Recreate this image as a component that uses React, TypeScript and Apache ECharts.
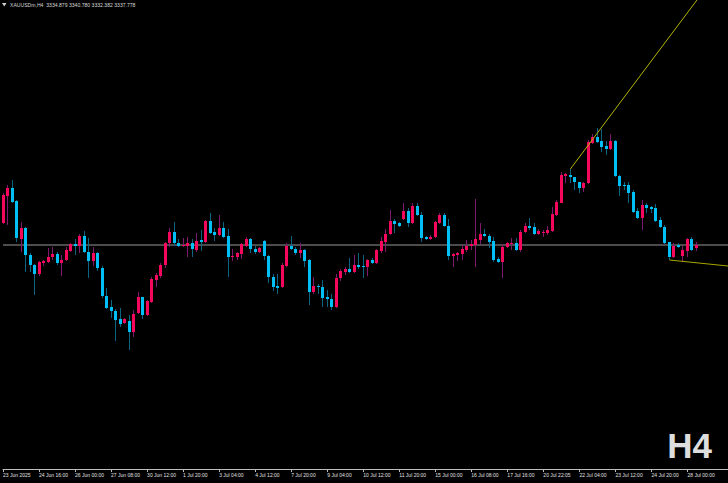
import React, { useEffect, useRef } from 'react';
import * as echarts from 'echarts';

const symbolName = 'XAUUSDm,H4';
const headerValues = ['3334.879', '3340.780', '3332.382', '3337.778'];
const timeframeLabel = 'H4';
const tickLabels = [
  '23 Jun 2025', '24 Jun 16:00', '26 Jun 00:00', '27 Jun 08:00', '30 Jun 12:00',
  '1 Jul 20:00', '3 Jul 04:00', '4 Jul 12:00', '7 Jul 20:00', '9 Jul 04:00',
  '10 Jul 12:00', '11 Jul 20:00', '15 Jul 00:00', '16 Jul 08:00', '17 Jul 16:00',
  '20 Jul 22:05', '22 Jul 04:00', '23 Jul 12:00', '24 Jul 20:00', '28 Jul 00:00',
];
const labelStep = 8;
const totalSlots = 162;

const openP = [
  3357.8, 3382.1, 3389.3, 3377.6, 3343.4, 3353.3, 3329.0, 3320.0, 3311.9, 3321.8,
  3322.7, 3327.2, 3329.9, 3321.8, 3324.5, 3332.6, 3338.9, 3337.1, 3346.1, 3331.7,
  3323.6, 3330.8, 3317.3, 3292.1, 3282.2, 3278.6, 3271.4, 3267.8, 3269.6, 3259.7,
  3276.8, 3291.2, 3275.0, 3286.7, 3306.5, 3310.1, 3320.0, 3339.8, 3349.7, 3339.8,
  3337.1, 3337.1, 3339.8, 3333.5, 3342.5, 3340.7, 3359.6, 3349.7, 3347.0, 3353.3,
  3346.1, 3327.2, 3327.2, 3329.9, 3337.1, 3343.4, 3334.4, 3331.7, 3341.6, 3328.1,
  3309.2, 3301.1, 3300.2, 3319.1, 3337.1, 3334.4, 3330.8, 3333.5, 3324.5, 3295.7,
  3301.1, 3300.2, 3291.2, 3289.4, 3282.2, 3308.3, 3313.7, 3316.4, 3313.7, 3320.0,
  3319.1, 3318.2, 3324.5, 3321.8, 3332.6, 3340.7, 3347.9, 3359.6, 3357.8, 3361.4,
  3368.6, 3357.8, 3373.1, 3365.0, 3345.2, 3343.4, 3345.2, 3357.8, 3365.0, 3355.1,
  3328.1, 3329.0, 3329.9, 3333.5, 3337.1, 3338.0, 3342.5, 3347.9, 3346.1, 3341.6,
  3325.4, 3322.7, 3336.2, 3338.9, 3339.8, 3333.5, 3349.7, 3355.1, 3354.2, 3347.9,
  3348.8, 3348.8, 3350.6, 3365.0, 3375.8, 3400.1, 3401.0, 3399.2, 3394.7, 3389.3,
  3393.8, 3429.8, 3435.2, 3431.6, 3427.1, 3424.4, 3431.6, 3400.1, 3392.0, 3392.0,
  3385.7, 3368.6, 3362.3, 3374.0, 3372.2, 3371.3, 3360.5, 3354.2, 3340.7, 3327.2,
  3338.0, 3328.1, 3332.6, 3343.4, 3334.879,
];
const highP = [
  3384.8, 3392.0, 3396.5, 3378.5, 3358.7, 3354.2, 3330.8, 3320.9, 3323.6, 3324.5,
  3335.3, 3336.2, 3331.7, 3329.0, 3336.2, 3339.8, 3343.4, 3347.9, 3350.6, 3344.3,
  3336.2, 3331.7, 3319.1, 3299.3, 3288.5, 3280.4, 3281.3, 3272.3, 3275.0, 3279.5,
  3295.7, 3291.2, 3288.5, 3309.2, 3312.8, 3321.8, 3340.7, 3353.3, 3358.7, 3343.4,
  3344.3, 3345.2, 3343.4, 3348.8, 3351.5, 3360.5, 3366.8, 3353.3, 3365.0, 3358.7,
  3352.4, 3334.4, 3331.7, 3339.8, 3345.2, 3344.3, 3337.1, 3336.2, 3342.5, 3329.0,
  3311.9, 3311.9, 3321.8, 3339.8, 3346.1, 3336.2, 3339.8, 3334.4, 3325.4, 3309.2,
  3302.9, 3306.5, 3297.5, 3293.9, 3311.9, 3316.4, 3318.2, 3326.3, 3329.0, 3330.8,
  3329.0, 3325.4, 3326.3, 3334.4, 3345.2, 3352.4, 3369.5, 3361.4, 3358.7, 3375.8,
  3371.3, 3375.8, 3375.8, 3367.7, 3346.1, 3347.0, 3359.6, 3366.8, 3366.8, 3361.4,
  3330.8, 3331.7, 3338.0, 3342.5, 3342.5, 3379.4, 3357.8, 3352.4, 3347.9, 3345.2,
  3327.2, 3338.9, 3340.7, 3344.3, 3344.3, 3351.5, 3357.8, 3362.3, 3357.8, 3352.4,
  3351.5, 3355.1, 3372.2, 3378.5, 3403.7, 3402.8, 3406.4, 3399.2, 3394.7, 3394.7,
  3432.5, 3437.9, 3443.3, 3442.4, 3431.6, 3437.9, 3432.5, 3401.0, 3394.7, 3394.7,
  3387.5, 3371.3, 3378.5, 3375.8, 3373.1, 3374.9, 3363.2, 3356.0, 3340.7, 3339.8,
  3339.8, 3337.1, 3344.3, 3345.2, 3340.78,
];
const lowP = [
  3356.9, 3356.0, 3375.8, 3340.7, 3331.7, 3313.7, 3313.7, 3293.0, 3310.1, 3319.1,
  3321.8, 3324.5, 3320.0, 3310.1, 3323.6, 3331.7, 3329.0, 3330.8, 3330.8, 3308.3,
  3319.1, 3314.6, 3290.3, 3280.4, 3272.3, 3251.6, 3264.2, 3266.9, 3243.5, 3255.2,
  3275.9, 3271.4, 3274.1, 3285.8, 3300.2, 3308.3, 3317.3, 3336.2, 3337.1, 3336.2,
  3336.2, 3327.2, 3327.2, 3331.7, 3332.6, 3339.8, 3347.9, 3341.6, 3346.1, 3344.3,
  3309.2, 3323.6, 3324.5, 3325.4, 3336.2, 3330.8, 3329.9, 3330.8, 3324.5, 3303.8,
  3296.6, 3293.9, 3299.3, 3318.2, 3333.5, 3329.0, 3326.3, 3318.2, 3284.0, 3293.9,
  3293.9, 3282.2, 3282.2, 3279.5, 3281.3, 3305.6, 3311.0, 3312.8, 3312.8, 3316.4,
  3308.3, 3310.1, 3320.9, 3320.9, 3330.8, 3331.7, 3347.0, 3348.8, 3354.2, 3360.5,
  3354.2, 3356.9, 3364.1, 3340.7, 3342.5, 3342.5, 3344.3, 3356.9, 3354.2, 3324.5,
  3318.2, 3323.6, 3324.5, 3331.7, 3333.5, 3318.2, 3338.9, 3345.2, 3335.3, 3322.7,
  3321.8, 3308.3, 3335.3, 3333.5, 3332.6, 3331.7, 3348.8, 3351.5, 3347.0, 3347.0,
  3345.2, 3347.0, 3349.7, 3364.1, 3375.8, 3393.8, 3393.8, 3387.5, 3384.8, 3385.7,
  3392.9, 3428.9, 3429.8, 3421.7, 3419.0, 3423.5, 3399.2, 3382.1, 3387.5, 3375.8,
  3366.8, 3361.4, 3351.5, 3366.8, 3366.8, 3358.7, 3353.3, 3338.9, 3324.5, 3326.3,
  3335.3, 3322.7, 3327.2, 3332.6, 3332.382,
];
const closeP = [
  3383.0, 3389.3, 3376.7, 3344.3, 3353.3, 3329.0, 3320.0, 3311.9, 3322.7, 3323.6,
  3327.2, 3329.9, 3321.8, 3324.5, 3333.5, 3338.9, 3337.1, 3346.1, 3331.7, 3323.6,
  3330.8, 3317.3, 3292.1, 3281.3, 3278.6, 3270.5, 3266.9, 3271.4, 3259.7, 3275.9,
  3291.2, 3275.0, 3287.6, 3307.4, 3311.0, 3320.0, 3339.8, 3349.7, 3339.8, 3337.1,
  3338.0, 3339.8, 3334.4, 3341.6, 3340.7, 3359.6, 3348.8, 3347.0, 3353.3, 3345.2,
  3327.2, 3328.1, 3330.8, 3338.9, 3343.4, 3334.4, 3331.7, 3335.3, 3328.1, 3309.2,
  3300.2, 3299.3, 3320.0, 3337.1, 3334.4, 3330.8, 3333.5, 3323.6, 3295.7, 3301.1,
  3300.2, 3290.3, 3289.4, 3282.2, 3308.3, 3314.6, 3316.4, 3313.7, 3320.0, 3318.2,
  3318.2, 3324.5, 3321.8, 3333.5, 3341.6, 3347.9, 3359.6, 3356.9, 3355.1, 3368.6,
  3357.8, 3373.1, 3365.0, 3344.3, 3343.4, 3345.2, 3358.7, 3365.0, 3355.1, 3328.1,
  3329.9, 3330.8, 3334.4, 3337.1, 3338.9, 3343.4, 3347.9, 3346.1, 3340.7, 3324.5,
  3322.7, 3336.2, 3339.8, 3339.8, 3333.5, 3349.7, 3355.1, 3353.3, 3347.9, 3350.6,
  3349.7, 3351.5, 3365.9, 3376.7, 3401.0, 3401.9, 3399.2, 3394.7, 3389.3, 3393.8,
  3430.7, 3435.2, 3430.7, 3426.2, 3424.4, 3431.6, 3400.1, 3391.1, 3391.1, 3384.8,
  3367.7, 3362.3, 3374.0, 3371.3, 3370.4, 3359.6, 3354.2, 3339.8, 3327.2, 3337.1,
  3336.2, 3333.5, 3343.4, 3333.5, 3337.778,
];

const bidPrice = 3337.778;
const trendUp = [[126, 3406.4], [161, 3595.8]];
const trendDown = [[148, 3324.5], [161, 3319.1]];

const priceMin = 3136.4;
const priceMax = 3558.5;

const bodyUp = '#f5075c';
const bodyDown = '#00bff5';
const wickUp = '#7e1a6e';
const wickDown = '#0c6480';

export default function App() {
  const ref = useRef<HTMLDivElement>(null);

  useEffect(() => {
    document.body.style.margin = '0';
    document.body.style.background = '#000';
    const chart = echarts.init(ref.current as HTMLDivElement, null, { renderer: 'svg' });
    const categories = Array.from({ length: totalSlots }, (_, i) => String(i));
    const candles = openP.map((o, i) => [i, o, closeP[i], lowP[i], highP[i]]);
    const isTick = (idx: number) => idx % labelStep === 0 && idx / labelStep < tickLabels.length;

    const option: any = {
      animation: false,
      backgroundColor: '#000000',
      grid: { left: 0, right: 0, top: 0, bottom: 14, containLabel: false },
      xAxis: {
        type: 'category',
        data: categories,
        boundaryGap: false,
        axisLine: { show: true, lineStyle: { color: '#bdbdbd', width: 1 } },
        axisTick: {
          show: true,
          length: 3,
          interval: (idx: number) => isTick(idx),
          lineStyle: { color: '#bdbdbd', width: 1 },
        },
        axisLabel: {
          interval: (idx: number) => isTick(idx),
          formatter: (_v: string, idx: number) => (isTick(idx) ? tickLabels[idx / labelStep] : ''),
          align: 'left',
          color: '#e0e0e0',
          fontSize: 5,
          fontFamily: 'Liberation Sans',
          margin: 3,
        },
        splitLine: { show: false },
      },
      yAxis: {
        type: 'value',
        min: priceMin,
        max: priceMax,
        show: false,
        splitLine: { show: false },
      },
      series: [
        {
          type: 'line',
          data: [],
          z: 1,
          silent: true,
          markLine: {
            silent: true,
            symbol: ['none', 'none'],
            label: { show: false },
            z: 1,
            lineStyle: { color: '#4c4c4c', width: 2, type: 'solid' },
            data: [{ yAxis: bidPrice }],
          },
        },
        {
          type: 'custom',
          z: 3,
          data: candles,
          encode: { x: 0, y: [1, 2, 3, 4] },
          renderItem: (_params: any, api: any) => {
            const i = api.value(0);
            const o = api.value(1);
            const c = api.value(2);
            const l = api.value(3);
            const h = api.value(4);
            const pO = api.coord([i, o]);
            const pC = api.coord([i, c]);
            const pL = api.coord([i, l]);
            const pH = api.coord([i, h]);
            const up = c >= o;
            const x = Math.round(pO[0] - 1.5);
            const yTop = Math.round(Math.min(pO[1], pC[1]));
            const yBot = Math.round(Math.max(pO[1], pC[1]));
            const height = Math.max(1, yBot - yTop);
            return {
              type: 'group',
              children: [
                {
                  type: 'line',
                  shape: { x1: x + 1.5, y1: Math.round(pH[1]), x2: x + 1.5, y2: Math.round(pL[1]) },
                  style: { stroke: up ? wickUp : wickDown, lineWidth: 1 },
                },
                {
                  type: 'rect',
                  shape: { x, y: yTop, width: 3, height },
                  style: { fill: up ? bodyUp : bodyDown },
                },
              ],
            };
          },
        },
        {
          type: 'line',
          z: 4,
          data: trendUp,
          symbol: 'none',
          clip: true,
          lineStyle: { color: '#b3b300', width: 1 },
        },
        {
          type: 'line',
          z: 4,
          data: trendDown,
          symbol: 'none',
          clip: true,
          lineStyle: { color: '#a6a600', width: 1 },
        },
      ],
      graphic: [
        {
          type: 'polygon',
          shape: { points: [[2, 3], [6.5, 3], [4.25, 6.5]] },
          style: { fill: '#d0d0d0' },
        },
        {
          type: 'text',
          x: 10,
          y: 5,
          style: {
            text: `${symbolName}  ${headerValues.join(' ')}`,
            fill: '#d6d6d6',
            fontSize: 5.1,
            fontFamily: 'Liberation Sans',
            textVerticalAlign: 'middle',
          },
        },
        {
          type: 'text',
          x: 712,
          y: 445,
          style: {
            text: timeframeLabel,
            fill: '#dedede',
            fontSize: 35,
            fontWeight: 'bold',
            fontFamily: 'Liberation Sans',
            textAlign: 'right',
            textVerticalAlign: 'middle',
          },
        },
      ],
    };
    chart.setOption(option);
    return () => chart.dispose();
  }, []);

  return (
    <div
      ref={ref}
      style={{ position: 'fixed', left: 0, top: 0, width: 728, height: 483, background: '#000' }}
    />
  );
}
